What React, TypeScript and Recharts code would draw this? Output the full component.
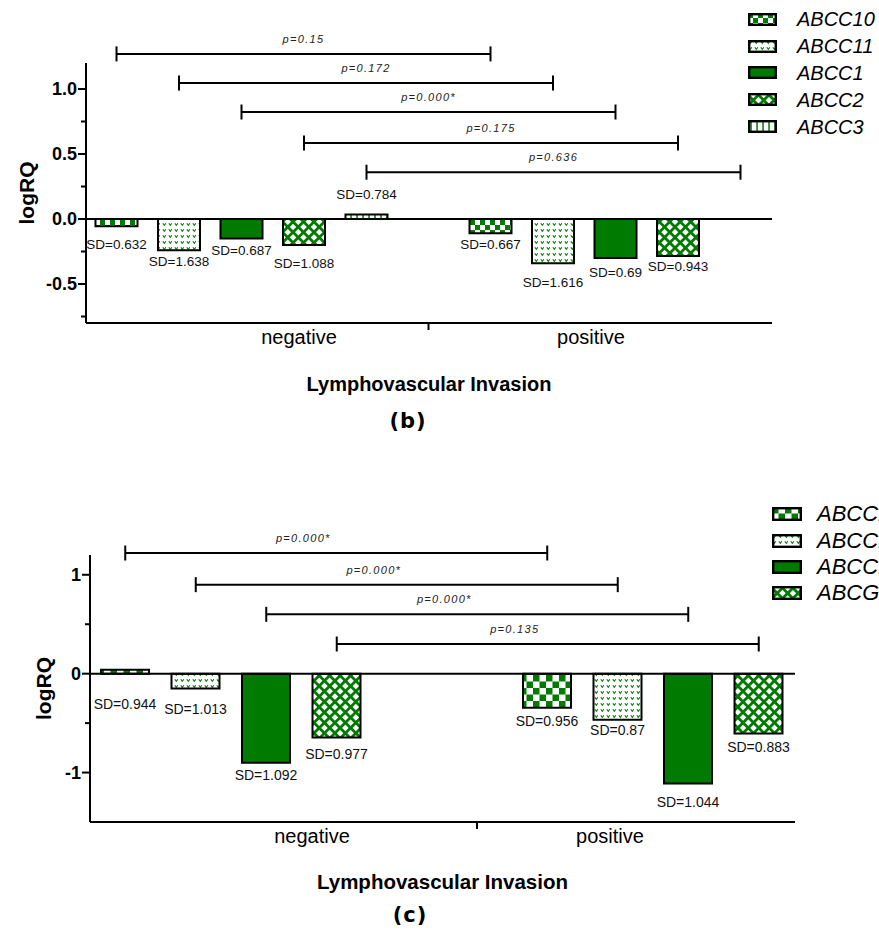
import type { CSSProperties } from 'react'
import {
    BarChart,
    Bar,
    XAxis,
    YAxis,
    Legend,
    LabelList,
    ReferenceLine,
} from 'recharts'

const SANS = '"Liberation Sans", Arial, Helvetica, sans-serif'
const GREEN = '#007a00'

const groups = ['negative', 'positive']

// panel (b)
const genesB = ['ABCC10', 'ABCC11', 'ABCC1', 'ABCC2', 'ABCC3']
const negativeB = [-0.055, -0.24, -0.15, -0.2, 0.035]
const positiveB = [-0.11, -0.34, -0.3, -0.285, 0]
const sdNegativeB = [0.632, 1.638, 0.687, 1.088, 0.784]
const sdPositiveB = [0.667, 1.616, 0.69, 0.943, 0.79]
const pValuesB = ['0.15', '0.172', '0.000*', '0.175', '0.636']
const yTicksB = [-0.75, -0.5, -0.25, 0, 0.25, 0.5, 0.75, 1]

// panel (c)
const genesC = ['ABCC10', 'ABCC11', 'ABCC1', 'ABCG2']
const negativeC = [0.04, -0.15, -0.9, -0.645]
const positiveC = [-0.345, -0.465, -1.11, -0.605]
const sdNegativeC = [0.944, 1.013, 1.092, 0.977]
const sdPositiveC = [0.956, 0.87, 1.044, 0.883]
const pValuesC = ['0.000*', '0.000*', '0.000*', '0.135']
const yTicksC = [-1, -0.5, 0, 0.5, 1]

const panelB = {
    id: 'pb',
    top: 0,
    height: 440,
    margin: { top: 63, right: 107, bottom: 37, left: 26 },
    domain: [-0.8, 1.2],
    yTicks: yTicksB,
    step: 0.5,
    digits: 1,
    genes: genesB,
    neg: negativeB,
    pos: positiveB,
    sdNeg: sdNegativeB,
    sdPos: sdPositiveB,
    pValues: pValuesB,
    kinds: ['checker', 'dots', 'solid', 'cross', 'vlines'],
    barSize: 42,
    barGap: 20.5,
    padding: { left: -31.5, right: -30.5 },
    sepDx: 187,
    labelShift: [57.5, -24.5],
    levels: [1.27, 1.046, 0.823, 0.585, 0.36],
    pTextDx: 0,
    sdDyNeg: [18, 11, 12, 18, -25],
    sdDyPos: [11, 19, 14, 10, 28],
    sdSize: 13.5,
    cell: 5,
    yTitleDx: 0,
    xTitleDy: 68,
    xTitleSize: 20,
    legend: { left: 748, top: 6, rowH: 26.8, swW: 29, swH: 13, gap: 20, fontSize: 20 },
}

const panelC = {
    id: 'pc',
    top: 480,
    height: 450,
    margin: { top: 75, right: 84, bottom: 28, left: 30 },
    domain: [-1.5, 1.2],
    yTicks: yTicksC,
    step: 1,
    digits: 0,
    genes: genesC,
    neg: negativeC,
    pos: positiveC,
    sdNeg: sdNegativeC,
    sdPos: sdPositiveC,
    pValues: pValuesC,
    kinds: ['checker', 'dots', 'solid', 'cross'],
    barSize: 48,
    barGap: 22.5,
    padding: { left: -70, right: -69 },
    sepDx: 246,
    labelShift: [81, -43],
    levels: [1.22, 0.9, 0.6, 0.3],
    pTextDx: -33,
    sdDyNeg: [30, 20, 12, 17],
    sdDyPos: [13, 10, 19, 13],
    sdSize: 14,
    cell: 6.5,
    yTitleDx: 13,
    xTitleDy: 67,
    xTitleSize: 20.5,
    legend: { left: 772, top: 21.4, rowH: 26.2, swW: 30, swH: 14, gap: 15, fontSize: 22 },
}

type Panel = typeof panelB

function patternDefs(id: string, cell: number) {
    const d = 7.4
    return (
        <defs>
            <pattern id={`${id}-checker`} width={cell * 2} height={cell * 2} patternUnits="userSpaceOnUse">
                <rect width={cell * 2} height={cell * 2} fill="#fff" />
                <rect width={cell} height={cell} fill={GREEN} />
                <rect x={cell} y={cell} width={cell} height={cell} fill={GREEN} />
            </pattern>
            <pattern id={`${id}-dots`} width={6} height={6} patternUnits="userSpaceOnUse">
                <rect width={6} height={6} fill="#fff" />
                <path d="M0.8 1.3 L2.3 3.4 L3.8 1.3" stroke={GREEN} strokeWidth={1.1} fill="none" />
            </pattern>
            <pattern id={`${id}-cross`} width={d} height={d} patternUnits="userSpaceOnUse" patternTransform="rotate(45)">
                <rect width={d} height={d} fill="#fff" />
                <rect width={d} height={2.8} fill={GREEN} />
                <rect width={2.8} height={d} fill={GREEN} />
            </pattern>
            <pattern id={`${id}-vlines`} width={6} height={6} patternUnits="userSpaceOnUse">
                <rect width={6} height={6} fill="#fff" />
                <rect x={2.3} width={1.5} height={6} fill={GREEN} />
            </pattern>
        </defs>
    )
}

function YTick(props: any) {
    const { x, y, payload, step, digits } = props
    const v = Number(payload.value)
    const major = Math.abs(v / step - Math.round(v / step)) < 1e-6
    return (
        <g>
            <line x1={x - (major ? 8 : 5)} x2={x} y1={y} y2={y} stroke="#000" strokeWidth={2} />
            {major && (
                <text x={x - 9} y={y} dy="0.36em" textAnchor="end" fontSize={18} fontWeight="bold" fontFamily={SANS} fill="#000">
                    {v.toFixed(digits)}
                </text>
            )}
        </g>
    )
}

function XTick(props: any) {
    const { x, y, payload, index, shift, sepDx } = props
    return (
        <g>
            <text x={x + shift[index]} y={y + 21} textAnchor="middle" fontSize={20} fontFamily={SANS} fill="#000">
                {payload.value}
            </text>
            {index === 0 && <line x1={x + sepDx} x2={x + sepDx} y1={y} y2={y + 7} stroke="#000" strokeWidth={2} />}
        </g>
    )
}

const bracket = (dx: number, text: string, textDx: number) => (p: any) => {
    const x1 = p.x1 + dx
    const x2 = p.x2 + dx
    const y = p.y1
    return (
        <g>
            <line x1={x1} x2={x2} y1={y} y2={y} stroke="#000" strokeWidth={2} />
            <line x1={x1} x2={x1} y1={y - 7.5} y2={y + 7.5} stroke="#000" strokeWidth={2} />
            <line x1={x2} x2={x2} y1={y - 7.5} y2={y + 7.5} stroke="#000" strokeWidth={2} />
            <text
                x={(x1 + x2) / 2 + textDx}
                y={y - 15}
                dy="0.36em"
                textAnchor="middle"
                fontSize={11}
                fontStyle="italic"
                letterSpacing={1.3}
                fontFamily={SANS}
                fill="#222"
            >
                {text}
            </text>
        </g>
    )
}

const sdLabel = (dyNeg: number, dyPos: number, size: number) => (p: any) => {
    const vb = p.viewBox ?? p
    const x = Number(vb.x)
    const y = Number(vb.y)
    const w = Number(vb.width)
    const h = Number(vb.height)
    const bottom = Math.max(y, y + h)
    const dy = p.index === 0 ? dyNeg : dyPos
    return (
        <text x={x + w / 2} y={bottom + dy} dy="0.36em" textAnchor="middle" fontSize={size} fontFamily={SANS} fill="#111">
            {`SD=${p.value}`}
        </text>
    )
}

function LegendBox({ payload, lg, genes, fills }: any) {
    // keep the series order, not the alphabetical one
    const items = [...(payload ?? [])].sort((a: any, b: any) => genes.indexOf(a.value) - genes.indexOf(b.value))
    return (
        <div>
            {items.map((e: any) => {
                const i = genes.indexOf(e.value)
                return (
                    <div key={e.value} style={{ height: lg.rowH, display: 'flex', alignItems: 'center', whiteSpace: 'nowrap' }}>
                        <svg width={lg.swW} height={lg.swH} style={{ display: 'block', flex: 'none' }}>
                            <rect
                                x={1.2}
                                y={1.2}
                                width={lg.swW - 2.4}
                                height={lg.swH - 2.4}
                                fill={fills[i] ?? e.payload?.fill}
                                stroke="#000"
                                strokeWidth={2.4}
                            />
                        </svg>
                        <span style={{ marginLeft: lg.gap, fontFamily: SANS, fontStyle: 'italic', fontSize: lg.fontSize, lineHeight: 1, color: '#000' }}>
                            {e.value}
                        </span>
                    </div>
                )
            })}
        </div>
    )
}

function GroupedPanel({ cfg }: { cfg: Panel }) {
    const data = groups.map((g, gi) => {
        const row: Record<string, string | number> = { group: g }
        cfg.genes.forEach((gene, i) => {
            row[gene] = gi === 0 ? cfg.neg[i] : cfg.pos[i]
            row[`${gene}_sd`] = gi === 0 ? cfg.sdNeg[i] : cfg.sdPos[i]
        })
        return row
    })
    const fills = cfg.kinds.map(k => (k === 'solid' ? GREEN : `url(#${cfg.id}-${k})`))
    const pitch = cfg.barSize + cfg.barGap
    const mid = (cfg.genes.length - 1) / 2

    return (
        <div style={{ position: 'absolute', left: 0, top: cfg.top }}>
            <BarChart
                width={879}
                height={cfg.height}
                data={data}
                margin={cfg.margin}
                barSize={cfg.barSize}
                barGap={cfg.barGap}
            >
                {patternDefs(cfg.id, cfg.cell)}
                <XAxis
                    dataKey="group"
                    height={80}
                    padding={cfg.padding}
                    interval={0}
                    tickLine={false}
                    tickSize={0}
                    tickMargin={0}
                    axisLine={{ stroke: '#000', strokeWidth: 2 }}
                    tick={(p: any) => <XTick {...p} shift={cfg.labelShift} sepDx={cfg.sepDx} />}
                    label={{
                        value: 'Lymphovascular Invasion',
                        content: (p: any) => (
                            <text
                                x={p.viewBox.x + p.viewBox.width / 2}
                                y={p.viewBox.y + cfg.xTitleDy}
                                textAnchor="middle"
                                fontSize={cfg.xTitleSize}
                                fontWeight="bold"
                                fontFamily={SANS}
                                fill="#000"
                            >
                                {p.value}
                            </text>
                        ),
                    }}
                />
                <YAxis
                    domain={cfg.domain}
                    ticks={cfg.yTicks}
                    interval={0}
                    width={60}
                    tickLine={false}
                    tickSize={0}
                    tickMargin={0}
                    axisLine={{ stroke: '#000', strokeWidth: 2 }}
                    tick={(p: any) => <YTick {...p} step={cfg.step} digits={cfg.digits} />}
                    label={{
                        value: 'logRQ',
                        content: (p: any) => {
                            const cx = p.viewBox.x + cfg.yTitleDx
                            const cy = p.viewBox.y + p.viewBox.height / 2
                            return (
                                <text
                                    x={cx}
                                    y={cy}
                                    dy="0.36em"
                                    transform={`rotate(-90, ${cx}, ${cy})`}
                                    textAnchor="middle"
                                    fontSize={21}
                                    fontWeight="bold"
                                    fontFamily={SANS}
                                    fill="#000"
                                >
                                    {p.value}
                                </text>
                            )
                        },
                    }}
                />
                <Legend
                    layout="vertical"
                    align="center"
                    verticalAlign="middle"
                    wrapperStyle={{ left: cfg.legend.left, top: cfg.legend.top, width: 200 }}
                    content={(p: any) => <LegendBox payload={p.payload} lg={cfg.legend} genes={cfg.genes} fills={fills} />}
                />
                <ReferenceLine y={0} stroke="#000" strokeWidth={2} />
                {cfg.genes.map((gene, i) => (
                    <ReferenceLine
                        key={`br-${gene}`}
                        segment={[
                            { x: groups[0], y: cfg.levels[i] },
                            { x: groups[1], y: cfg.levels[i] },
                        ]}
                        ifOverflow="visible"
                        stroke="#000"
                        shape={bracket((i - mid) * pitch, `p=${cfg.pValues[i]}`, cfg.pTextDx)}
                    />
                ))}
                {cfg.genes.map((gene, i) => (
                    <Bar
                        key={gene}
                        dataKey={gene}
                        name={gene}
                        fill={fills[i]}
                        stroke="#000"
                        strokeWidth={2}
                        isAnimationActive={false}
                    >
                        <LabelList dataKey={`${gene}_sd`} content={sdLabel(cfg.sdDyNeg[i], cfg.sdDyPos[i], cfg.sdSize)} />
                    </Bar>
                ))}
            </BarChart>
        </div>
    )
}

const panelLabel = (cx: number, cy: number): CSSProperties => ({
    position: 'absolute',
    left: cx - 40,
    top: cy - 12,
    width: 80,
    textAlign: 'center',
    fontFamily: '"DejaVu Sans", Verdana, sans-serif',
    fontWeight: 'bold',
    fontSize: 21,
    lineHeight: '24px',
    letterSpacing: 1,
    color: '#000',
})

export default function App() {
    return (
        <div style={{ position: 'absolute', left: 0, top: 0, width: 879, height: 930, overflow: 'hidden', background: '#fff' }}>
            <GroupedPanel cfg={panelB} />
            <GroupedPanel cfg={panelC} />
            <div style={panelLabel(408, 421)}>(b)</div>
            <div style={panelLabel(410, 915)}>(c)</div>
        </div>
    )
}
